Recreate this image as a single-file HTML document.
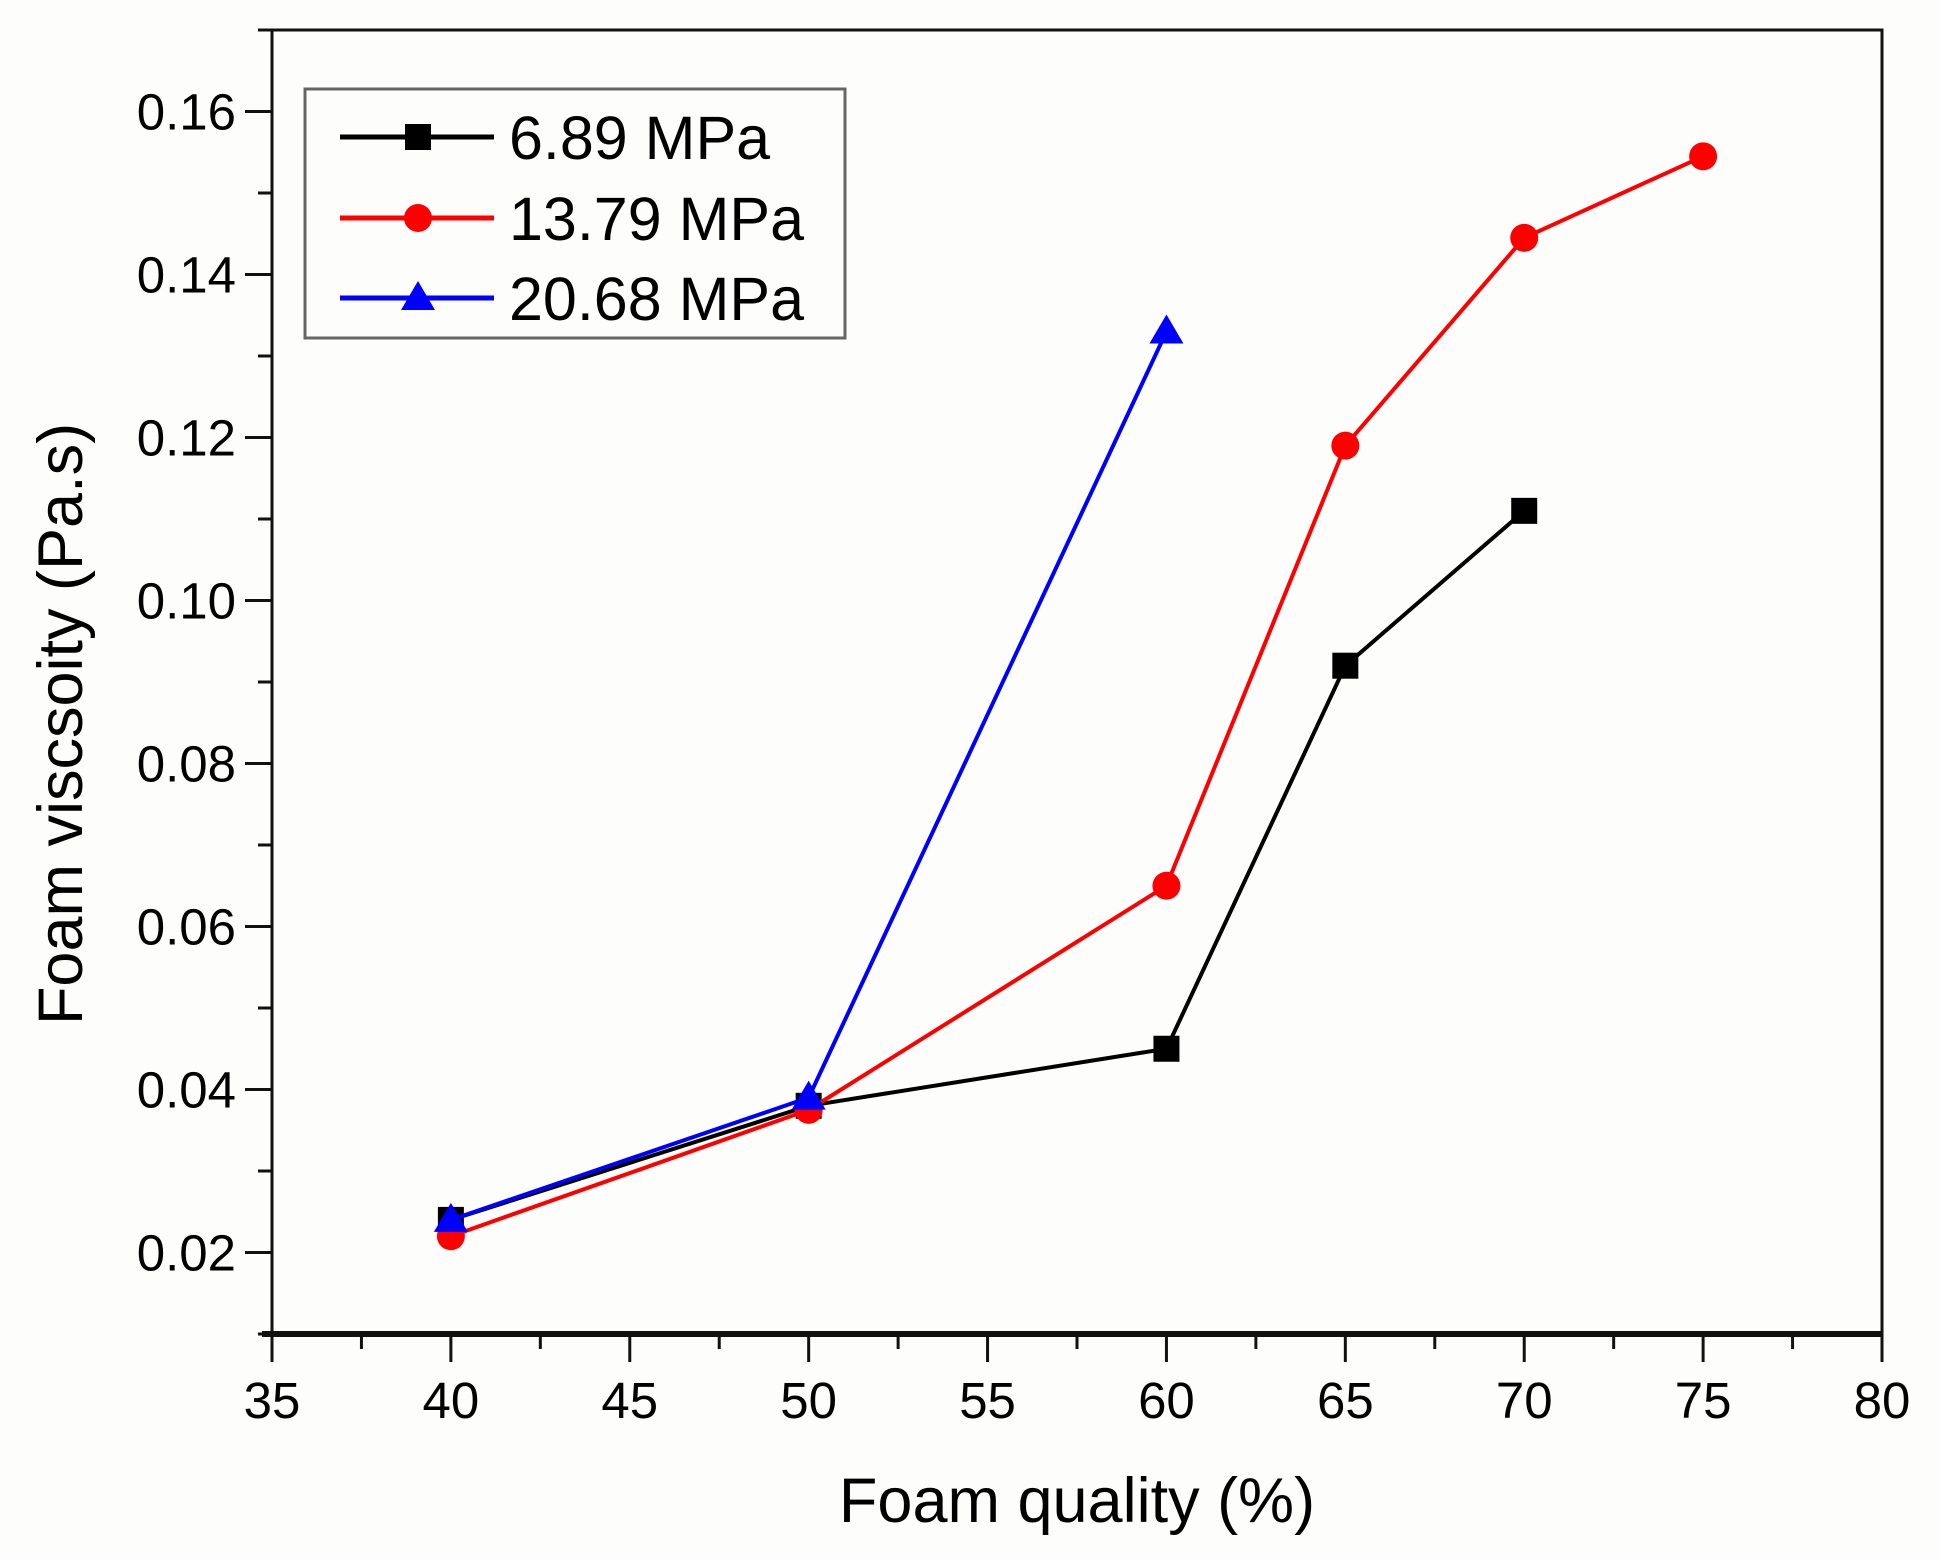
<!DOCTYPE html>
<html><head><meta charset="utf-8"><style>
html,body{margin:0;padding:0;background:#fdfdfc;}
svg{display:block;font-family:"Liberation Sans",Arial,sans-serif;}
</style></head><body>
<svg id="chart" width="1941" height="1560" viewBox="0 0 1941 1560">
<rect x="0" y="0" width="1941" height="1560" fill="#fdfdfc"/>
<g id="axes"></g>
<g id="series"></g>
<g id="legend"></g>
<text x="1077" y="1522" font-size="63" text-anchor="middle" fill="#000">Foam quality (%)</text>
<text x="0" y="0" font-size="63" text-anchor="middle" fill="#000" transform="translate(82,724) rotate(-90)">Foam viscsoity (Pa.s)</text>
</svg>
<script>
const xTicks = [35,40,45,50,55,60,65,70,75,80];
const yTicks = [0.02,0.04,0.06,0.08,0.10,0.12,0.14,0.16];
const yTickLabels = ["0.02","0.04","0.06","0.08","0.10","0.12","0.14","0.16"];
const seriesNames = ["6.89 MPa","13.79 MPa","20.68 MPa"];
const x1 = [40,50,60,65,70];
const y1 = [0.024,0.038,0.045,0.092,0.111];
const x2 = [40,50,60,65,70,75];
const y2 = [0.022,0.0375,0.065,0.119,0.1445,0.1545];
const x3 = [40,50,60];
const y3 = [0.024,0.039,0.133];

const NS="http://www.w3.org/2000/svg";
const L=272,R=1882,T=30,B=1334;
const xMin=35,xMax=80,yMin=0.01,yMax=0.17;
function sx(v){return L+(v-xMin)/(xMax-xMin)*(R-L);}
function sy(v){return B-(v-yMin)/(yMax-yMin)*(B-T);}
function mk(tag,attrs,parent){const e=document.createElementNS(NS,tag);for(const k in attrs)e.setAttribute(k,attrs[k]);parent.appendChild(e);return e;}
const axes=document.getElementById('axes');
let e;
e=mk('rect',{x:L,y:T,width:R-L,height:B-T,fill:'none',stroke:'#111','stroke-width':3},axes);


e=mk('line',{x1:L-10,y1:B,x2:R,y2:B,stroke:'#111','stroke-width':6},axes);


xTicks.forEach((v,i)=>{
  let t=mk('line',{x1:sx(v),y1:B,x2:sx(v),y2:B+28,stroke:'#111','stroke-width':3},axes);
  
  
  if(i<xTicks.length-1){
    let m=mk('line',{x1:sx(v+2.5),y1:B,x2:sx(v+2.5),y2:B+15,stroke:'#111','stroke-width':3},axes);
    
    
  }
  let lb=mk('text',{x:sx(v),y:B+84,'font-size':51,'text-anchor':'middle',fill:'#000'},axes);
  lb.textContent=String(v);
  
  
});
yTicks.forEach((v,i)=>{
  let t=mk('line',{x1:L-27,y1:sy(v),x2:L,y2:sy(v),stroke:'#111','stroke-width':3},axes);
  
  
  let m=mk('line',{x1:L-14,y1:sy(v-0.01),x2:L,y2:sy(v-0.01),stroke:'#111','stroke-width':3},axes);
  
  
  let lb=mk('text',{x:L-36,y:sy(v)+18,'font-size':51,'text-anchor':'end',fill:'#000'},axes);
  lb.textContent=yTickLabels[i];
  
  
});
let m2=mk('line',{x1:L-14,y1:sy(0.17),x2:L,y2:sy(0.17),stroke:'#111','stroke-width':3},axes);



const sg=document.getElementById('series');
function marker(kind,cx,cy,color,parent){
  let el;
  if(kind==='sq') el=mk('rect',{x:cx-13,y:cy-13,width:26,height:26,fill:color},parent);
  else if(kind==='ci') el=mk('circle',{cx:cx,cy:cy,r:14,fill:color},parent);
  else el=mk('polygon',{points:`${cx},${cy-17} ${cx-17},${cy+12} ${cx+17},${cy+12}`,fill:color},parent);
  return el;
}
const defs=[[x1,y1,'#000','sq','series-6-89-mpa'],[x2,y2,'#ff0000','ci','series-13-79-mpa'],[x3,y3,'#0000ff','tr','series-20-68-mpa']];
defs.forEach(([xs,ys,c,k,n])=>{
  const g=mk('g',{},sg);
  
  
  const pl=mk('polyline',{points:xs.map((x,i)=>sx(x)+','+sy(ys[i])).join(' '),fill:'none',stroke:c,'stroke-width':4,'stroke-linejoin':'round'},g);
  
  
  xs.forEach((x,i)=>{
    const p=marker(k,sx(x),sy(ys[i]),c,g);
    
    
  });
});

const lg=document.getElementById('legend');
e=mk('rect',{x:305,y:89,width:540,height:249,fill:'#fdfdfc',stroke:'#666','stroke-width':3},lg);


const rowsY=[137,218,298];
defs.forEach(([xs,ys,c,k,n],i)=>{
  const g=mk('g',{},lg);
  
  
  const ln=mk('line',{x1:340,y1:rowsY[i],x2:494,y2:rowsY[i],stroke:c,'stroke-width':5},g);
  
  
  const mm=marker(k,418,rowsY[i],c,g);
  
  
  const tx=mk('text',{x:509,y:rowsY[i]+22,'font-size':61,fill:'#000'},g);
  tx.textContent=seriesNames[i];
  
  
});
</script>
</body></html>
